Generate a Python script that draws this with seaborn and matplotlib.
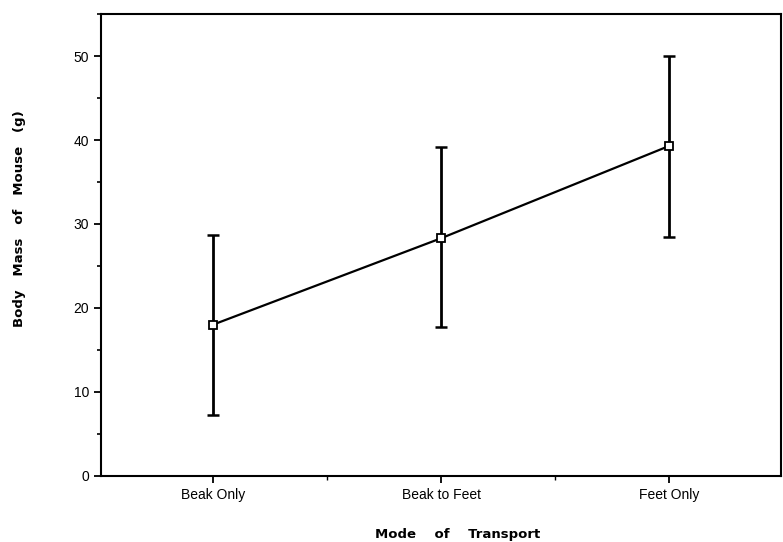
import numpy as np
import pandas as pd
import matplotlib
matplotlib.use("Agg")
import matplotlib.pyplot as plt
import seaborn as sns
from matplotlib.ticker import MultipleLocator, FixedLocator

# Data
modes = ["Beak Only", "Beak to Feet", "Feet Only"]
mean_mass = [18.0, 28.3, 39.3]
err_low = [7.3, 17.7, 28.4]
err_high = [28.7, 39.2, 50.0]

df = pd.DataFrame({"mode": modes, "mass": mean_mass})
df["pos"] = np.arange(len(modes))

sns.set_style("ticks")
plt.rcParams["font.family"] = ["Liberation Sans", "DejaVu Sans"]
plt.rcParams["text.color"] = "black"
plt.rcParams["axes.labelcolor"] = "black"
plt.rcParams["xtick.color"] = "black"
plt.rcParams["ytick.color"] = "black"

fig = plt.figure(figsize=(7.83, 5.42), dpi=100)
ax = fig.add_axes([0.129, 0.122, 0.8685, 0.852])

# error bars
yerr = np.array([df["mass"] - np.array(err_low), np.array(err_high) - df["mass"]])
ax.errorbar(df["pos"], df["mass"], yerr=yerr, fmt="none", ecolor="black",
            elinewidth=2.0, capsize=4, capthick=1.8, zorder=2)

# mean line with open square markers
sns.lineplot(data=df, x="pos", y="mass", ax=ax, color="black", linewidth=1.6,
             marker="s", markersize=6, markerfacecolor="white",
             markeredgecolor="black", markeredgewidth=1.3, zorder=3)

ax.set_xlim(-0.49, 2.49)
ax.set_ylim(0, 55)
ax.xaxis.set_major_locator(FixedLocator(df["pos"]))
ax.xaxis.set_minor_locator(FixedLocator([0.5, 1.5]))
ax.set_xticklabels(modes, fontsize=10)
ax.yaxis.set_major_locator(MultipleLocator(10))
ax.yaxis.set_minor_locator(MultipleLocator(5))
ax.tick_params(axis="y", labelsize=10, length=5, width=1.3, direction="out")
ax.tick_params(axis="y", which="minor", length=3, width=1.2)
ax.tick_params(axis="x", labelsize=10, length=5, width=1.3, direction="out")
ax.tick_params(axis="x", which="minor", length=3, width=1.0)

for side in ["left", "bottom", "top", "right"]:
    ax.spines[side].set_visible(True)
    ax.spines[side].set_linewidth(1.5)
    ax.spines[side].set_color("black")

label_font = dict(fontsize=9.5, fontweight="bold", family="DejaVu Sans", color="black")
ax.set_xlabel("Mode    of    Transport", **label_font)
ax.set_ylabel("Body   Mass   of   Mouse   (g)", **label_font)
ax.xaxis.set_label_coords(0.525, -0.112)
ax.yaxis.set_label_coords(-0.110, 0.558)

fig.savefig("out.png", dpi=100)
